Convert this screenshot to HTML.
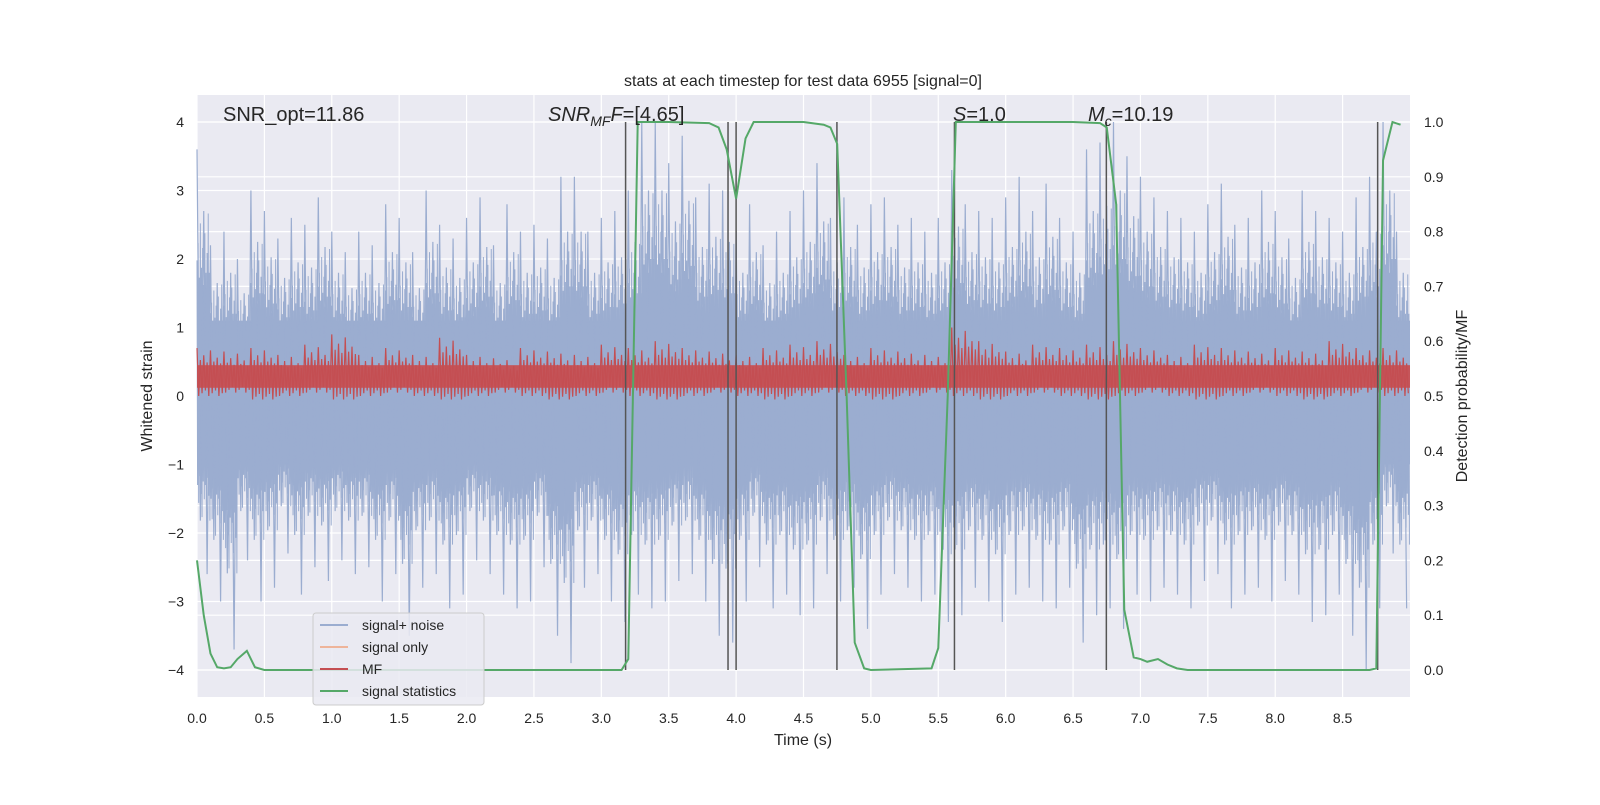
<!DOCTYPE html>
<html><head><meta charset="utf-8">
<style>
body{margin:0;background:#fff;}
svg text{font-family:"Liberation Sans","DejaVu Sans",sans-serif;fill:#262626;}
</style></head>
<body>
<svg id="c" width="1600" height="800" xmlns="http://www.w3.org/2000/svg">
<rect x="0" y="0" width="1600" height="800" fill="#fff"/>
<rect x="197" y="95" width="1213" height="602" fill="#eaeaf2"/>
<g id="grid"></g>
<g id="marks"></g>
<g id="ticks"></g>
<text x="803" y="86" font-size="16" text-anchor="middle">stats at each timestep for test data 6955 [signal=0]</text>
<text x="803" y="745" font-size="16" text-anchor="middle">Time (s)</text>
<text transform="translate(152,396) rotate(-90)" font-size="16" text-anchor="middle">Whitened strain</text>
<text transform="translate(1467,396) rotate(-90)" font-size="16" text-anchor="middle">Detection probability/MF</text>
<text x="223" y="121" font-size="20">SNR_opt=11.86</text>
<text x="548" y="121" font-size="20"><tspan font-style="italic">SNR</tspan><tspan font-style="italic" font-size="14" dy="5">MF</tspan><tspan font-style="italic" dy="-5">F</tspan>=[4.65]</text>
<text x="953" y="121" font-size="20"><tspan font-style="italic">S</tspan>=1.0</text>
<text x="1088" y="121" font-size="20"><tspan font-style="italic">M</tspan><tspan font-style="italic" font-size="14" dy="5">c</tspan><tspan dy="-5">=10.19</tspan></text>
<g>
<rect x="313" y="613" width="171" height="92" rx="3" fill="#eaeaf2" stroke="#cccccc" fill-opacity="0.85"/>
<line x1="320" y1="625" x2="348" y2="625" stroke="#9badd0" stroke-width="2"/>
<text x="362" y="630" font-size="14">signal+ noise</text>
<line x1="320" y1="647" x2="348" y2="647" stroke="#eeb49a" stroke-width="2"/>
<text x="362" y="652" font-size="14">signal only</text>
<line x1="320" y1="669" x2="348" y2="669" stroke="#c44e52" stroke-width="2"/>
<text x="362" y="674" font-size="14">MF</text>
<line x1="320" y1="691" x2="348" y2="691" stroke="#55a868" stroke-width="2"/>
<text x="362" y="696" font-size="14">signal statistics</text>
</g>
</svg>
<script>
const xTicks=[0,0.5,1,1.5,2,2.5,3,3.5,4,4.5,5,5.5,6,6.5,7,7.5,8,8.5];
const yTicks=[-4,-3,-2,-1,0,1,2,3,4];
const y2Ticks=[0,0.1,0.2,0.3,0.4,0.5,0.6,0.7,0.8,0.9,1.0];
const noiseHi=[3.6,2.2,2.4,2.0,3.0,2.7,2.3,2.6,2.5,2.9,2.4,2.1,2.4,2.2,2.8,2.6,2.1,3.0,2.5,2.3,2.6,2.9,2.2,2.8,2.4,2.5,2.3,3.2,3.2,2.4,2.6,2.7,3.0,4.0,4.0,3.4,3.8,2.9,3.1,3.0,2.4,2.8,2.2,2.4,2.7,3.0,3.4,2.6,2.9,2.5,2.8,2.9,2.5,2.6,2.4,2.6,3.3,2.8,2.7,2.6,2.9,3.2,2.7,3.1,2.6,2.4,3.6,3.7,4.0,3.5,3.2,2.9,2.7,2.6,2.4,2.8,3.1,2.5,2.6,3.0,2.7,2.3,3.0,2.7,2.6,2.4,2.9,3.2,4.0,2.4];
const noiseLo=[-2.6,-3.0,-3.7,-2.4,-3.0,-2.8,-2.3,-2.9,-2.5,-2.7,-2.4,-2.6,-2.5,-3.0,-2.6,-3.5,-2.8,-2.6,-3.1,-2.9,-2.4,-2.6,-2.9,-3.1,-3.0,-2.5,-3.5,-3.9,-2.8,-2.6,-3.0,-3.3,-2.9,-3.1,-3.0,-2.7,-2.6,-3.0,-3.5,-3.6,-3.0,-2.5,-3.1,-2.9,-3.2,-3.1,-2.6,-3.0,-2.8,-3.4,-2.9,-2.6,-2.8,-3.0,-2.9,-3.3,-3.2,-2.8,-3.0,-3.3,-2.9,-2.8,-3.0,-3.1,-2.8,-3.6,-3.2,-3.1,-3.4,-2.9,-3.0,-2.8,-2.9,-3.1,-2.7,-2.6,-3.1,-2.9,-2.8,-3.0,-2.7,-2.9,-3.3,-3.2,-2.9,-3.5,-4.0,-3.1,-2.3,-3.1];
const mfHi=[0.7,0.65,0.7,0.6,0.75,0.9,0.6,0.7,0.6,0.85,0.6,0.55,0.7,0.65,0.6,0.75,0.7,0.8,0.7,0.65,0.6,0.7,0.75,0.8,0.6,0.7,0.65,0.6,1.0,0.8,0.65,0.75,0.7,0.75,0.8,0.7,0.6,0.75,0.7,0.65,0.7,0.65,0.8,0.7,0.7];
const mfLo=[0.0,0.05,-0.05,0.0,0.05,-0.05,0.0,0.05,0.0,-0.05,0.0,0.05,0.0,-0.05,0.0,0.05,0.0,-0.05,0.0,0.05,0.0,-0.05,0.0,0.05,0.0,-0.05,0.0,0.05,0.0,-0.05,0.0,0.05,0.0,-0.05,0.0,0.05,0.0,-0.05,0.0,0.05,0.0,-0.05,0.0,0.05,0.0];
const statT=[0,0.05,0.1,0.15,0.2,0.25,0.3,0.37,0.43,0.5,1.0,2.0,3.0,3.15,3.2,3.27,3.5,3.8,3.87,3.93,4.0,4.07,4.13,4.5,4.65,4.7,4.75,4.82,4.88,4.95,5.0,5.45,5.5,5.57,5.63,6.5,6.7,6.75,6.82,6.88,6.95,7.0,7.05,7.13,7.2,7.27,7.35,8.0,8.7,8.75,8.8,8.87,8.93];
const statV=[0.2,0.1,0.03,0.005,0.003,0.005,0.02,0.035,0.005,0,0,0,0,0,0.02,1.0,1.0,0.998,0.99,0.95,0.86,0.97,1.0,1.0,0.995,0.99,0.96,0.5,0.05,0.003,0,0.003,0.04,0.5,1.0,1.0,0.998,0.99,0.85,0.11,0.023,0.02,0.015,0.02,0.01,0.003,0,0,0,0.003,0.93,1.0,0.995];
const vLines=[3.18,3.94,4.0,4.748,5.62,6.747,8.76];

const L=197,R=1410,T=95,B=697;
const X=t=>L+t*(R-L)/9;
const Y=v=>396-v*68.5;
const Y2=p=>670-p*548;
const NS='http://www.w3.org/2000/svg';
function mk(tag,attrs,parent){const e=document.createElementNS(NS,tag);for(const k in attrs)e.setAttribute(k,attrs[k]);parent.appendChild(e);return e;}
const grid=document.getElementById('grid'),marks=document.getElementById('marks'),ticks=document.getElementById('ticks');

xTicks.forEach(t=>{
  const g=mk('line',{x1:X(t),x2:X(t),y1:T,y2:B,stroke:'#fff','stroke-width':1.2},grid);
  
  
  const tx=mk('text',{x:X(t),y:723,'font-size':14,'text-anchor':'middle'},ticks);
  tx.textContent=t.toFixed(1);
  
  
});
yTicks.forEach(v=>{
  const g=mk('line',{x1:L,x2:R,y1:Y(v),y2:Y(v),stroke:'#fff','stroke-width':1.2},grid);
  
  
  const tx=mk('text',{x:184,y:Y(v)+5,'font-size':14,'text-anchor':'end'},ticks);
  tx.textContent=v<0?'\u2212'+Math.abs(v):String(v);
  
  
});
y2Ticks.forEach(p=>{
  const g=mk('line',{x1:L,x2:R,y1:Y2(p),y2:Y2(p),stroke:'#fff','stroke-width':1.2},grid);
  
  
  const tx=mk('text',{x:1424,y:Y2(p)+5,'font-size':14},ticks);
  tx.textContent=p.toFixed(1);
  
  
});

// noise band
const nb=9/noiseHi.length;
const core=mk('rect',{x:L,y:Y(1.1),width:R-L,height:Y(-1.0)-Y(1.1),fill:'#9badd0'},marks);


const fu=[0.55,0.62,0.48,0.7,0.52,0.6,0.45,0.66,0.5,0.58,0.74,0.5];
const fl=[0.5,0.6,0.45,0.55,0.68,0.48,0.58,0.5,0.62,0.46,0.56,0.7];
let fd='';
noiseHi.forEach((h,i)=>{
  const lo=noiseLo[i];
  for(let k=0;k<12;k++){
    const xa=X(i*nb+nb*k/12),xb=X(i*nb+nb*(k+0.5)/12);
    fd+=(i||k?'L':'M')+xa+','+Y(h*fu[k])+'L'+xb+','+Y(lo*fl[k]);
  }
});
const fp=mk('path',{d:fd,fill:'none',stroke:'#9badd0','stroke-width':1},marks);


let d='';
noiseHi.forEach((h,i)=>{
  const x0=X(i*nb),x1=X(i*nb+nb*0.25),x2=X(i*nb+nb*0.5),x3=X(i*nb+nb*0.75);
  const lo=noiseLo[i];
  d+=(i?'L':'M')+x0+','+Y(h)+'L'+x1+','+Y(lo*0.7)+'L'+x2+','+Y(h*0.75)+'L'+x3+','+Y(lo);
});
const np=mk('path',{d:d,fill:'none',stroke:'#9badd0','stroke-width':1.2},marks);



// MF
const mb=9/mfHi.length;
const mcore=mk('rect',{x:L,y:Y(0.45),width:R-L,height:Y(0.12)-Y(0.45),fill:'#c5555a'},marks);


const mf=[1,0.75,0.85,0.7,0.95,0.72,0.8,0.68];
let md='';
mfHi.forEach((h,i)=>{
  for(let k=0;k<8;k++){
    const xa=X(i*mb+mb*k/8),xb=X(i*mb+mb*(k+0.5)/8);
    md+=(i||k?'L':'M')+xa+','+Y(h*mf[k])+'L'+xb+','+Y(mfLo[i]+(k%3)*0.04);
  }
});
const mp=mk('path',{d:md,fill:'none',stroke:'#c44e52','stroke-width':1.2},marks);



// vertical markers
vLines.forEach(t=>{
  const l=mk('line',{x1:X(t),x2:X(t),y1:Y2(1),y2:Y2(0),stroke:'#555','stroke-width':1.5},marks);
  
  
});

// stats
const sp=mk('polyline',{points:statT.map((t,i)=>X(t)+','+Y2(statV[i])).join(' '),fill:'none',stroke:'#55a868','stroke-width':2},marks);


</script>
</body></html>
